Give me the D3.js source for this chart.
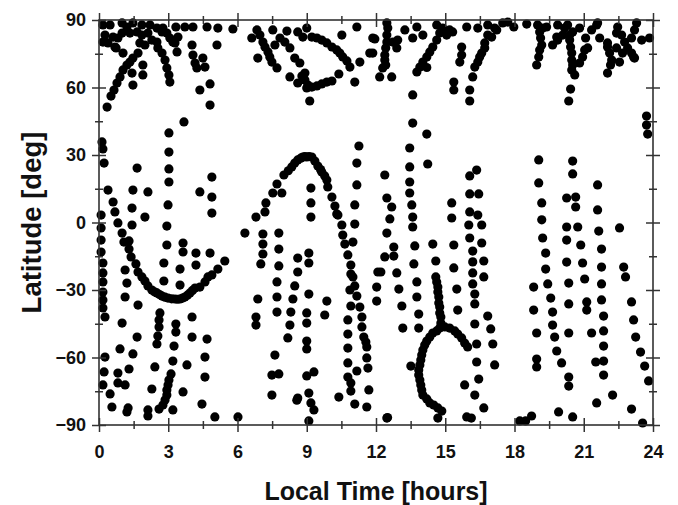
<!DOCTYPE html>
<html>
<head>
<meta charset="utf-8">
<script src="https://cdn.jsdelivr.net/npm/d3@7"></script>
<style>
  html, body { margin: 0; padding: 0; background: #fff; }
  svg text { font-family: "Liberation Sans", Arial, sans-serif; font-weight: bold; fill: #111; }
</style>
</head>
<body>
<svg id="chart" width="678" height="505"></svg>
<script>
// ---------- data: [local time (hours), latitude (deg)] ----------
const xTicks = [0, 3, 6, 9, 12, 15, 18, 21, 24];
const yTicks = [-90, -60, -30, 0, 30, 60, 90];
const xTitle = "Local Time [hours]";
const yTitle = "Latitude [deg]";

const northBand = [
[0.17,87.8],[0.48,87.8],[1.0,88.7],[1.21,86.9],[1.47,88.7],[1.86,87.8],[2.21,87.8],[2.51,86.4],[2.73,84.7],
[0.26,83.3],[0.61,82.4],[1.0,84.2],[1.34,84.2],[1.65,84.7],[1.86,83.3],[2.12,84.2],[1.77,79.8],[2.51,80.2],
[0.17,80.2],[0.69,78],[1.04,75.3],[1.69,75.3],[1.99,78.9],[2.29,81.1],[2.55,77.6],[2.73,75.3],[2.86,72.2],[2.94,68.7],[3.03,65.6],[3.07,62.4],
[3.29,79.8],[3.42,82.4],[3.38,75.8],[3.33,86.9],[3.72,86.9],[4.07,86.9],[4.03,78.9],[4.07,74.4],[4.16,70.9],[4.24,68.7],[4.5,73.1],[4.59,69.1],[4.68,86.9],[5.15,86.4],[5.11,78.9],[5.8,86],
[4.37,58.9],[4.81,61.6],[4.81,52.2],[1.9,70],[1.9,65.6],[1.43,66.4],[1.47,61.1],
[0.35,51.3],[0.52,56.2],[0.65,58.9],[0.78,62],[0.91,64.7],[1.04,67.8],[1.21,70],[1.34,71.3],[1.47,73.1],
[0.39,79.8],[0.74,77.6],[0.82,82],[2.77,86.4],[2.94,84.2],[3.07,82],[3.2,80.2],
[6.84,85.6],[7.53,85.6],[6.62,82],[6.97,83.3],[7.1,80.2],[7.19,78],[7.32,75.8],[7.4,73.6],[6.88,73.1],[7.49,71.3],[7.71,68.7],[7.84,82],[7.62,78.9],
[8.14,85.1],[8.61,84.7],[9.0,86.4],[8.83,82.4],[8.05,80.2],[8.27,77.6],[8.48,73.1],[8.7,70.9],[8.27,64.7],[8.79,65.1],[8.92,66.4],[8.61,62],[8.92,63.3],[9.05,61.1],[9.22,60.2],[9.44,60.7],[9.65,61.6],[9.87,62.4],[10.09,62.9],[9.0,59.8],[9.13,54],
[9.22,82.4],[9.44,82],[9.65,81.1],[9.87,79.8],[10.09,78],[10.3,76.7],[10.43,75.3],[10.56,73.6],[10.74,71.8],[10.87,69.1],[10.52,83.3],[11.17,86.9],[10.39,66],[11.08,62.4],[11.3,71.3],[11.73,75.3],[11.95,81.6],
[11.86,82],[11.86,75.3],
[12.47,88.7],[12.51,86.4],[12.47,83.3],[12.47,80.2],[12.42,77.6],[12.38,74.4],[12.38,72.2],[12.42,70],[12.29,68.7],[12.16,64.7],[12.68,64.7],[12.73,80.2],[12.94,81.1],[12.9,77.6],
[13.25,85.6],[13.77,86.9],[13.59,82],[14.03,83.3],[14.63,87.8],[14.89,86.4],[14.76,84.2],[14.63,81.1],[14.46,78],[14.33,75.8],[14.2,73.6],[14.03,71.3],[13.9,69.1],[13.77,66.9],[14.2,68.9],
[15.19,85.6],[15.32,84.7],[15.06,83.3],[15.71,78],[15.71,74.4],[15.63,71.3],[15.37,62.4],[15.37,58.9],[15.93,86.9],[16.06,58.9],[16.06,54],[13.59,56.7],
[16.41,86.4],[16.84,87.8],[17.14,86.4],[17.49,88.7],[17.71,89.1],[17.97,86.9],[18.53,88.2],[19.0,87.8],[19.22,86.4],
[16.84,83.3],[16.71,79.8],[16.71,77.6],[16.58,75.3],[16.49,73.6],[16.41,71.3],[16.28,69.1],[16.19,64.7],[17.01,82.4],[17.23,85.6],
[19.09,84.7],[19.13,82],[19.18,78.9],[19.09,76.7],[19.05,73.6],[18.96,70],
[19.39,86.9],[19.65,78.9],[19.87,81.1],[20.09,83.3],[20.17,86.4],[20.52,84.7],[20.82,86.4],[20.39,81.1],[20.43,78],[20.48,75.3],[20.48,72.2],[20.52,70],[20.48,67.8],[20.61,65.6],[20.43,59.3],[20.35,54],
[20.82,70.9],[20.95,73.6],[21.17,77.6],[21.34,85.6],[21.56,87.8],[21.69,82],[21.08,82],[21.04,76.7],
[22.03,78],[22.12,75.3],[22.21,72.2],[22.16,70],[22.03,66.4],[22.03,79.8],[22.47,86.9],[22.64,83.3],[22.77,80.2],[22.9,77.6],[23.07,75.3],[23.2,73.1],[23.07,82],[23.29,88.7],[23.51,81.1],[23.2,85.6],[23.85,82],
[22.42,84.2],[22.42,77.6],[22.68,75.3],[22.55,71.3],[23.16,73.6],[21.6,88.7],[19.83,82.4],[19.87,87.8],[20.3,87.8],[20.39,83.3]
];

const midBand = [
[0.13,35.8],[0.17,32.7],[0.22,26.4],[3.03,39.8],[3.03,31.3],[3.03,23.8],[3.03,18],[2.99,7.8],[3.68,44.7],[1.65,24.2],[1.47,14.4],[2.12,13.6],[0.39,14.4],[0.61,9.1],[0.69,4.7],[1.43,6.4],[1.99,2.4],[4.89,20.2],[4.89,11.3],[4.89,4.2],[4.37,13.6],
[0.09,3.3],[0.09,-2.4],[0.09,-7.8],[0.09,-13.1],[0.17,-18],[0.17,-22.4],[0.17,-26.4],[0.17,-30.9],[0.17,-34.4],[0.17,-38],[0.26,-42],
[0.82,-0.2],[1.0,-4.7],[1.08,-8.7],[1.3,-8.2],[1.3,-11.8],[1.39,-15.3],[1.6,-18.4],[1.69,-22],[1.86,-24.2],[1.99,-26],[2.12,-28.2],[2.29,-30],[2.4,-30.8],[2.51,-31.3],[2.62,-32],[2.73,-32.7],[2.86,-33.2],[2.99,-33.6],[3.15,-33.9],[3.29,-34],[3.4,-34.1],[3.51,-34],[3.62,-33.6],[3.72,-33.1],[3.83,-32.3],[3.94,-31.3],[4.05,-30.2],[4.16,-29.1],[4.37,-28.7],[4.59,-26.4],[4.72,-24.2],[4.89,-23.3],[5.15,-20.7],[5.45,-17.1],
[1.13,-21.1],[1.21,-26.9],[1.13,-33.1],[1.69,-36.7],[1.0,-44.7],[1.43,-1.1],[2.94,-1.6],[2.94,-10],[3.64,-9.1],[3.64,-13.1],[2.81,-18],[3.51,-20.7],[2.81,-26],[3.51,-27.8],[4.2,-13.6],[4.81,-13.6],[4.2,-18.9],[2.64,-40.2],[2.6,-43.3],[2.6,-46.4],[3.33,-45.1],[3.33,-48.7],[4.03,-42],
[6.32,-4.7],[6.8,2.4],[7.19,4.7],[9.18,2.4],[7.1,-5.1],[7.79,-4.7],[7.1,-9.6],[7.1,-14],[7.01,-18.4],[7.79,-11.8],[7.79,-19.3],[7.71,-26.4],[7.71,-33.1],[7.71,-39.8],[6.88,-34],[6.8,-42],[6.8,-45.6],[8.61,-15.8],[8.61,-22],[8.48,-28.2],[8.4,-34],[8.31,-39.8],[8.27,-45.6],[9.09,-13.6],[9.09,-18],[9.09,-31.8],[9.0,-40.2],[9.0,-44.7],[9.87,-34.9],[9.78,-41.1],
[10.35,3.3],[10.52,-1.1],[10.56,-5.6],[10.65,-9.6],[10.78,-14.4],[10.91,-18.9],[10.91,-22.9],[11.0,-24.2],[10.87,-30],[11.08,-28.2],[10.91,-37.1],[10.78,-43.3],[10.78,-49.6],[11.08,-0.7],[11.0,-8.7],[11.17,-32.7],[11.3,-37.6],[11.39,-42],[11.39,-46.4],[12.03,-28.7],[12.03,-34.9],[12.08,-22],
[11.26,34],[11.17,26.4],[11.17,16.7],[11.08,7.8],[9.18,15.3],[9.18,8.7],
[7.23,8.7],[7.53,13.1],[7.92,13.1],[7.71,17.1],[8.01,21.1],[8.2,23],[8.35,24.7],[8.48,26.4],[8.61,27.8],[8.74,28.6],[8.83,29.1],[8.92,29.3],[9.0,29.1],[9.1,29.3],[9.22,29.1],[9.35,27.3],[9.48,25.1],[9.6,23.5],[9.65,22.4],[9.78,20.7],[9.87,18.9],[9.91,15.8],[10.09,11.3],[10.22,7.3],[10.3,3.8],
[12.6,1.6],[12.47,-4.7],[12.77,-10.9],[12.38,-15.3],[12.77,-14.9],[12.21,-22],[12.9,-22.4],[12.99,-29.6],[13.12,-37.1],[13.16,-46.9],[13.59,2.4],[13.59,-2],[13.68,-10.4],[13.64,-18.4],[13.77,-26.4],[13.77,-33.1],[13.85,-40.7],[13.85,-46.9],[14.46,-9.6],[14.59,-17.1],[15.28,2],[15.37,-10],[15.37,-20.2],[15.5,-29.6],[15.54,-38.9],
[16.06,4.7],[16.41,3.3],[16.02,-1.1],[16.58,-1.1],[16.06,-6.9],[16.58,-9.1],[16.19,-12.7],[16.19,-17.5],[16.67,-17.1],[16.19,-22.4],[16.67,-24.2],[16.19,-27.3],[16.28,-31.8],[16.28,-36.2],[16.28,-45.1],[16.84,-41.6],[16.97,-47.3],
[14.59,-24.2],[14.63,-26.4],[14.68,-28.7],[14.68,-30.9],[14.72,-33.1],[14.72,-35.8],[14.76,-37.6],[14.76,-40.2],[14.81,-42],[14.81,-44.7],
[13.59,44.2],[14.2,39.3],[13.46,33.1],[13.46,24.7],[14.24,26],[13.46,18],[13.46,13.1],[13.55,7.8],[12.38,21.1],[12.47,10.9],[12.68,6.9],[16.06,20.7],[16.36,23.3],[16.06,12.7],[16.45,12.7],[15.28,8.7],
[19.05,27.8],[20.52,27.3],[20.52,21.6],[19.05,17.6],[21.6,16.7],[20.26,10.9],[20.65,11.3],[20.65,6.9],[19.18,8.7],[21.6,5.6],[19.18,1.2],
[20.26,-2],[20.74,-2],[21.65,-3.8],[22.55,-2.4],[19.22,-6.9],[20.26,-7.8],[20.87,-10],[21.77,-11.8],[19.35,-13.6],[20.26,-17.6],[20.95,-18],[21.77,-19.8],[22.73,-19.8],[22.81,-24.2],[19.35,-20.7],[19.44,-27.3],[18.83,-28.7],[20.35,-26.9],[21.04,-25.1],[21.77,-27.3],[19.57,-33.6],[21.13,-35.3],[21.13,-38.9],[21.77,-34.4],[23.07,-35.3],[18.83,-38.9],[19.65,-39.8],[20.35,-36.2],[21.86,-41.6],[23.16,-43.3],[19.65,-45.6],[18.96,-49.1],[20.35,-49.1],[21.34,-49.1],[21.86,-48.2],
[23.72,47.3],[23.72,43.3],[23.77,39.3]
];

const southBand = [
[0.26,-59.8],[0.22,-66.4],[0.17,-72.2],[0.48,-76.2],[0.56,-82],
[1.65,-50.9],[0.91,-56.2],[1.47,-58.4],[0.82,-66.9],[1.3,-65.1],[0.82,-71.3],[1.13,-72.2],[1.26,-82.4],[1.21,-84.2],[2.12,-83.3],[2.12,-86],[2.29,-74],[2.42,-64.2],
[2.55,-50.4],[2.51,-54],[3.25,-54.9],[3.2,-61.6],[4.03,-50.9],[4.68,-51.8],[4.59,-59.8],[4.59,-68.7],[3.81,-63.3],[3.12,-67.3],[3.03,-70],[2.99,-72.2],[2.94,-74.4],[2.94,-76.7],[2.86,-78.9],[2.77,-81.1],[2.6,-82.9],[3.2,-83.3],[3.64,-75.3],[4.46,-80.7],[5.02,-86.4],[6.02,-86.4],
[8.18,-51.3],[9.0,-52.7],[9.0,-56.2],[7.62,-58.9],[7.49,-67.8],[7.79,-67.3],[9.0,-68.2],[9.31,-66.4],[7.49,-76.7],[8.61,-78],[9.09,-75.8],[9.18,-80.2],[9.31,-83.3],[9.09,-88.2],[10.39,-77.6],[8.57,-79],
[10.78,-55.8],[10.78,-62.4],[10.78,-68.7],[10.91,-71.3],[10.91,-74.9],[11.47,-50.9],[11.56,-53.1],[11.6,-55.3],[11.6,-60.2],[11.65,-64.7],[11.17,-66],[11.69,-74.4],[11.08,-80.7],[11.6,-82],[12.5,-86.7],
[13.51,-63.8],[12.47,-86.9],[14.68,-86.9],[15.93,-86.4],[16.13,-86.9],[15.84,-72.2],[16.28,-76.7],[16.67,-82.4],[16.36,-54],[17.06,-54],[16.36,-62],[17.14,-63.3],[16.45,-69.6],
[14.98,-46.4],[15.19,-46.9],[15.41,-48.2],[15.54,-49.6],[15.71,-51.3],[15.84,-53.6],[15.97,-55.3],[14.76,-46.9],[14.63,-48.2],[14.46,-49.1],[14.33,-50.9],[14.2,-52.7],[14.11,-54.4],[14.03,-56.7],[13.98,-58.9],[13.94,-61.1],[13.9,-63.3],[13.85,-65.6],[13.85,-67.8],[13.9,-70],[13.94,-72.2],[13.98,-74.4],[14.03,-76.7],[14.2,-78.4],[14.33,-80.2],[14.5,-81.1],[14.68,-82.4],[14.85,-83.8],
[19.74,-50.9],[21.86,-54.9],[19.83,-57.1],[23.46,-57.6],[18.96,-60.7],[18.96,-64.2],[20.04,-62.4],[21.52,-62],[21.86,-61.6],[23.64,-63.8],[21.86,-67.8],[20.35,-68.7],[20.35,-72.7],[23.81,-70.4],[22.25,-76.7],[21.56,-80.2],[23.07,-82.9],[19.91,-84.2],[20.52,-86.4],[23.55,-89.1],[18.23,-88.2],[18.48,-88.2],[18.74,-86],[23.25,-50.9]
];

// ---------- layout ----------
const plotL = 99, plotR = 653, plotT = 20, plotB = 425;
const svg = d3.select("#chart");

const x = d3.scaleLinear().domain([0, 24]).range([plotL, plotR]);
const y = d3.scaleLinear().domain([-90, 90]).range([plotB, plotT]);

const axisColor = "#333";
const majorHalf = 7, minorHalf = 4;

const xMinor = d3.range(1.5, 24, 3);
const yMinor = d3.range(-75, 90, 30);

// points
const allPts = northBand.concat(midBand, southBand);
svg.append("g").selectAll("circle").data(allPts).join("circle")
  .attr("cx", d => x(d[0])).attr("cy", d => y(d[1]))
  .attr("r", 4.6).attr("fill", "#000");

// frame
svg.append("rect").attr("x", plotL).attr("y", plotT)
  .attr("width", plotR - plotL).attr("height", plotB - plotT)
  .attr("fill", "none").attr("stroke", axisColor).attr("stroke-width", 1.6);

function styleTicks(g) {
  g.select(".domain").remove();
  g.selectAll(".tick line").attr("stroke", axisColor).attr("stroke-width", 1.5);
}
function addAxis(axis, tx, ty, half, vertical) {
  const g = svg.append("g").attr("transform", `translate(${tx},${ty})`).call(axis);
  styleTicks(g);
  if (vertical) g.selectAll(".tick line").attr("x1", -half).attr("x2", half);
  else g.selectAll(".tick line").attr("y1", -half).attr("y2", half);
  return g;
}

addAxis(d3.axisBottom(x).tickValues(xTicks).tickFormat(d3.format("d")).tickSize(majorHalf).tickPadding(13), 0, plotB, majorHalf, false);
addAxis(d3.axisBottom(x).tickValues(xMinor).tickFormat("").tickSize(minorHalf), 0, plotB, minorHalf, false);
addAxis(d3.axisTop(x).tickValues(xTicks).tickFormat("").tickSize(majorHalf), 0, plotT, majorHalf, false);
addAxis(d3.axisTop(x).tickValues(xMinor).tickFormat("").tickSize(minorHalf), 0, plotT, minorHalf, false);

addAxis(d3.axisLeft(y).tickValues(yTicks).tickFormat(d3.format("d")).tickSize(majorHalf).tickPadding(6), plotL, 0, majorHalf, true);
addAxis(d3.axisLeft(y).tickValues(yMinor).tickFormat("").tickSize(minorHalf), plotL, 0, minorHalf, true);
addAxis(d3.axisRight(y).tickValues(yTicks).tickFormat("").tickSize(majorHalf), plotR, 0, majorHalf, true);
addAxis(d3.axisRight(y).tickValues(yMinor).tickFormat("").tickSize(minorHalf), plotR, 0, minorHalf, true);

svg.selectAll(".tick text").attr("fill", "#111")
  .style("font-family", '"Liberation Sans", Arial, sans-serif')
  .style("font-weight", "bold").style("font-size", "18px");

// titles
svg.append("text").attr("x", (plotL + plotR) / 2).attr("y", 500)
  .attr("text-anchor", "middle").style("font-size", "25px").text(xTitle);
svg.append("text").attr("transform", `translate(41,${(plotT + plotB) / 2}) rotate(-90)`)
  .attr("text-anchor", "middle").style("font-size", "27.5px").text(yTitle);
</script>
</body>
</html>
